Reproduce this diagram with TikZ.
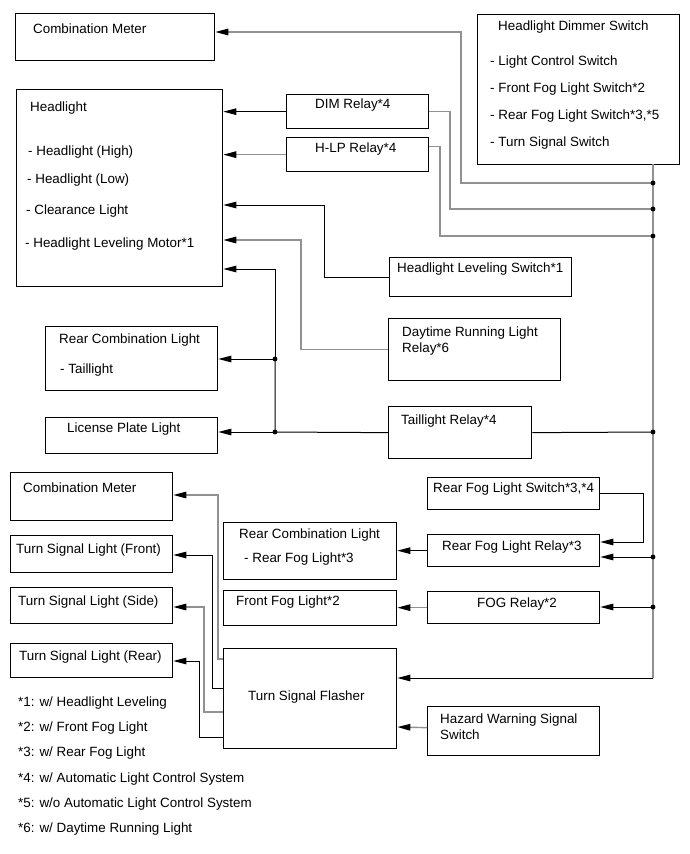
\documentclass[tikz,border=0pt]{standalone}
\usepackage{fontspec}
\setmainfont{Liberation Sans}
\usepackage{tikz}
\usetikzlibrary{positioning}
\usetikzlibrary{arrows.meta}
\definecolor{wiregray}{RGB}{145,145,145}
\tikzset{% boxes, labels and wires
        box/.style={draw, line width=1.3pt, rectangle, inner sep=0pt, anchor=north west},
        lbl/.style={anchor=base west, inner sep=0pt},
        wb/.style={draw=black, line width=1pt},
        wg/.style={draw=wiregray, line width=1.4pt},
        arr/.style={-{Triangle[length=13pt,width=6.5pt,color=black]}}
        }

\begin{document}
\begin{tikzpicture}[x=1pt, y=-1pt, font=\fontsize{13.4}{16}\selectfont]
\useasboundingbox (0,0) rectangle (690,854);

\node[box, minimum width=199pt, minimum height=47pt] (cmtop) at (15,13) {};
\node[lbl] (cmtop-t) at (33,33) {Combination Meter};

\node[box, minimum width=206pt, minimum height=197pt] (hl) at (16,89) {};
\node[lbl] (hl-t) at (30,111) {Headlight};
\node[lbl] (hl-a) at (28,155) {- Headlight (High)};
\node[lbl] (hl-b) at (27,183) {- Headlight (Low)};
\node[lbl] (hl-c) at (26,214) {- Clearance Light};
\node[lbl] (hl-d) at (25,247) {- Headlight Leveling Motor*1};

\node[box, minimum width=142pt, minimum height=34pt] (dim) at (286,94) {};
\node[lbl] (dim-t) at (315,108) {DIM Relay*4};
\node[box, minimum width=142pt, minimum height=34pt] (hlp) at (286,137) {};
\node[lbl] (hlp-t) at (315,152) {H-LP Relay*4};

\node[box, minimum width=202pt, minimum height=150pt] (dimsw) at (477,14) {};
\node[lbl] (dimsw-t) at (498,30) {Headlight Dimmer Switch};
\node[lbl] (dimsw-a) at (490,65) {- Light Control Switch};
\node[lbl] (dimsw-b) at (490,92) {- Front Fog Light Switch*2};
\node[lbl] (dimsw-c) at (490,119) {- Rear Fog Light Switch*3,*5};
\node[lbl] (dimsw-d) at (490,146) {- Turn Signal Switch};

\node[box, minimum width=182pt, minimum height=39pt] (levsw) at (389,257) {};
\node[lbl] (levsw-t) at (397,272) {Headlight Leveling Switch*1};

\node[box, minimum width=172pt, minimum height=62pt] (drl) at (388,318) {};
\node[lbl] (drl-t) at (402,336) {Daytime Running Light};
\node[lbl] (drl-u) at (402,352) {Relay*6};

\node[box, minimum width=143pt, minimum height=52pt] (tlr) at (388,406) {};
\node[lbl] (tlr-t) at (401,424) {Taillight Relay*4};

\node[box, minimum width=172pt, minimum height=64pt] (rcl) at (45,326) {};
\node[lbl] (rcl-t) at (59,343) {Rear Combination Light};
\node[lbl] (rcl-a) at (60,373) {- Taillight};
\node[box, minimum width=172pt, minimum height=36pt] (lpl) at (45,417) {};
\node[lbl] (lpl-t) at (67,432) {License Plate Light};

\node[box, minimum width=162pt, minimum height=48pt] (cmlow) at (10,472) {};
\node[lbl] (cmlow-t) at (23,492) {Combination Meter};
\node[box, minimum width=162pt, minimum height=37pt] (tsf) at (10,535) {};
\node[lbl] (tsf-t) at (16,553) {Turn Signal Light (Front)};
\node[box, minimum width=162pt, minimum height=36pt] (tss) at (10,587) {};
\node[lbl] (tss-t) at (18,605) {Turn Signal Light (Side)};
\node[box, minimum width=162pt, minimum height=34pt] (tsr) at (10,643) {};
\node[lbl] (tsr-t) at (19,660) {Turn Signal Light (Rear)};

\node[box, minimum width=173pt, minimum height=57pt] (rclfog) at (223,522) {};
\node[lbl] (rclfog-t) at (239,538) {Rear Combination Light};
\node[lbl] (rclfog-a) at (244,562) {- Rear Fog Light*3};
\node[box, minimum width=173pt, minimum height=35pt] (ffl) at (223,590) {};
\node[lbl] (ffl-t) at (236,605) {Front Fog Light*2};
\node[box, minimum width=173pt, minimum height=100pt] (flasher) at (223,648) {};
\node[lbl] (flasher-t) at (248,700) {Turn Signal Flasher};

\node[box, minimum width=172pt, minimum height=32pt] (rfsw) at (427,477) {};
\node[lbl] (rfsw-t) at (433,492) {Rear Fog Light Switch*3,*4};
\node[box, minimum width=172pt, minimum height=32pt] (rfr) at (427,534) {};
\node[lbl] (rfr-t) at (442,550) {Rear Fog Light Relay*3};
\node[box, minimum width=172pt, minimum height=32pt] (fog) at (427,591) {};
\node[lbl] (fog-t) at (477,607) {FOG Relay*2};
\node[box, minimum width=172pt, minimum height=49pt] (hazard) at (427,706) {};
\node[lbl] (hazard-t) at (440,723) {Hazard Warning Signal};
\node[lbl] (hazard-u) at (440,739) {Switch};

\node[lbl] (n1) at (18,706) {*1: w/ Headlight Leveling};
\node[lbl] (n2) at (18,731) {*2: w/ Front Fog Light};
\node[lbl] (n3) at (18,756) {*3: w/ Rear Fog Light};
\node[lbl] (n4) at (18,782) {*4: w/ Automatic Light Control System};
\node[lbl] (n5) at (18,807) {*5: w/o Automatic Light Control System};
\node[lbl] (n6) at (18,832) {*6: w/ Daytime Running Light};

\coordinate (bustop) at (653,164);
\coordinate (busbot) at (653,678);
\coordinate (j1) at (653,183);
\coordinate (j2) at (653,209);
\coordinate (j3) at (653,236);
\coordinate (j4) at (275,359);
\coordinate (j5) at (275,432);
\coordinate (j6) at (653,432);
\coordinate (j7) at (653,557);
\coordinate (j8) at (653,607);

\draw[wg] (bustop) -- (busbot);
\draw[wg, arr] (j1) -| (461,32) -- (cmtop.east|-0,32);
\draw[wb, arr] (dim.west) -- (hl.east|-dim.west);
\draw[wg] (dim.east) -| (450,209) -- (j2);
\draw[wg, arr] (hlp.west) -- (hl.east|-hlp.west);
\draw[wg] ([yshift=8pt]hlp.east) -| (440,236) -- (j3);
\draw[wb, arr] (levsw.west) -| (324,205) -- (hl.east|-0,205);
\draw[wg, arr] (drl.west) -| (301,240) -- (hl.east|-0,240);

\draw[wb] (tlr.west) -- (j5) -- (j4);
\draw[wb, arr] (j4) -- (275,269) -- (hl.east|-0,269);
\draw[wb, arr] (j4) -- (rcl.east|-j4);
\draw[wb, arr] (j5) -- (lpl.east|-j5);
\draw[wb] (tlr.east) -- (j6);

\draw[wb, arr] (rfsw.east) -| (643,542) -- (rfr.east|-0,542);
\draw[wb, arr] (j7) -- (rfr.east|-j7);
\draw[wb, arr] (j8) -- (fog.east|-j8);
\draw[wb, arr] (rfr.west) -- (rclfog.east|-rfr.west);
\draw[wg, arr] (fog.west) -- (ffl.east|-fog.west);
\draw[wb, arr] (busbot) -- (flasher.east|-busbot);
\draw[wg, arr] ([yshift=3.5pt]hazard.west) -- (flasher.east|-0,727);

\draw[wg, arr] (flasher.west|-0,659) -| (218,495) -- (cmlow.east|-0,495);
\draw[wb, arr] (flasher.west|-0,688) -| (212,555) -- (tsf.east|-0,555);
\draw[wg, arr] (flasher.west|-0,712) -| (204,607) -- (tss.east|-0,607);
\draw[wb, arr] (flasher.west|-0,737) -| (199,661) -- (tsr.east|-0,661);

\foreach \j in {j1,j2,j3,j4,j5,j6,j7,j8}
  \fill (\j) circle (2.4pt);
\end{tikzpicture}
\end{document}
